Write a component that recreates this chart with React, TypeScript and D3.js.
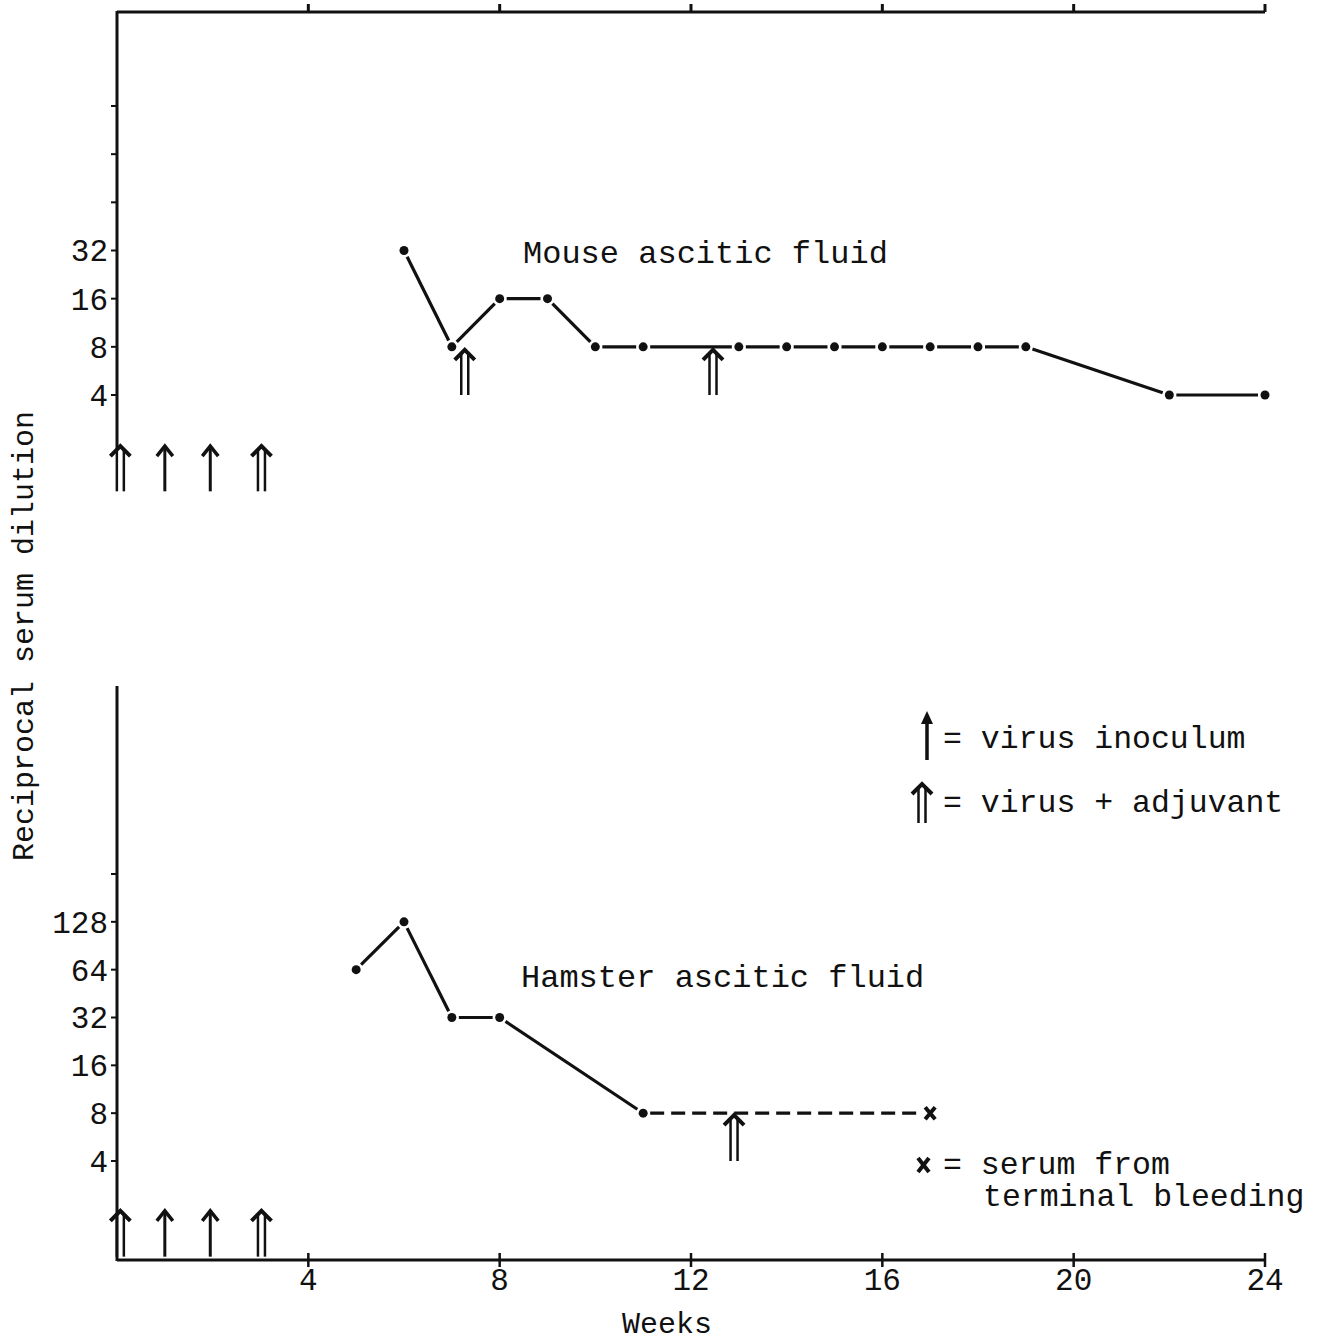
// Antibody titre chart: mouse and hamster ascitic fluid
import React from 'react';
import * as d3 from 'd3';

const mouseWeeks = [6, 7, 8, 9, 10, 11, 13, 14, 15, 16, 17, 18, 19, 22, 24];
const mouseTitres = [32, 8, 16, 16, 8, 8, 8, 8, 8, 8, 8, 8, 8, 4, 4];

const hamsterWeeks = [5, 6, 7, 8, 11, 17];
const hamsterTitres = [64, 128, 32, 32, 8, 8];
// index from which the hamster line is dashed
const hamsterDashFrom = 4;

const weekTicks = [4, 8, 12, 16, 20, 24];
const titreTicks = [4, 8, 16, 32, 64, 128, 256];
const mouseTickLabels = ['4', '8', '16', '32', '', '', ''];
const hamsterTickLabels = ['4', '8', '16', '32', '64', '128', ''];

// inoculations: week, kind, low (tail) and high (head) titre level
const mouseShots = [
  { week: 0.07, kind: 'double', from: 1, to: 2 },
  { week: 1, kind: 'single', from: 1, to: 2 },
  { week: 1.95, kind: 'single', from: 1, to: 2 },
  { week: 3.02, kind: 'double', from: 1, to: 2 },
  { week: 7.27, kind: 'double', from: 4, to: 8 },
  { week: 12.46, kind: 'double', from: 4, to: 8 },
];
const hamsterShots = [
  { week: 0.07, kind: 'double', from: 1, to: 2 },
  { week: 1, kind: 'single', from: 1, to: 2 },
  { week: 1.95, kind: 'single', from: 1, to: 2 },
  { week: 3.02, kind: 'double', from: 1, to: 2 },
  { week: 12.9, kind: 'double', from: 4, to: 8 },
];

const FONT = '"Liberation Mono", "Courier New", monospace';
const INK = '#111';

const x = d3.scaleLinear().domain([0, 24]).range([117, 1265]);
const yTop = d3.scaleLog().base(2).domain([4, 256]).range([395, 106]);
const yBot = d3.scaleLog().base(2).domain([4, 256]).range([1161, 874]);

function Arrow({ cx, y1, y2, kind }: { cx: number; y1: number; y2: number; kind: string }) {
  if (kind === 'single') {
    return (
      <g stroke={INK} fill="none" strokeWidth={3}>
        <line x1={cx} x2={cx} y1={y1} y2={y2 + 2} />
        <path d={`M${cx - 8},${y2 + 10} L${cx},${y2} L${cx + 8},${y2 + 10}`} strokeWidth={3.5} />
      </g>
    );
  }
  return (
    <g stroke={INK} fill="none" strokeWidth={2.5}>
      <line x1={cx - 3.5} x2={cx - 3.5} y1={y1} y2={y2 + 4} />
      <line x1={cx + 3.5} x2={cx + 3.5} y1={y1} y2={y2 + 4} />
      <path d={`M${cx - 10},${y2 + 10} L${cx},${y2} L${cx + 10},${y2 + 10}`} strokeWidth={4} />
    </g>
  );
}

function segments(pts: [number, number][], gap: number) {
  const out: { x1: number; y1: number; x2: number; y2: number; i: number }[] = [];
  for (let i = 0; i < pts.length - 1; i++) {
    const [ax, ay] = pts[i];
    const [bx, by] = pts[i + 1];
    const len = Math.hypot(bx - ax, by - ay);
    const ux = (bx - ax) / len;
    const uy = (by - ay) / len;
    out.push({ x1: ax + ux * gap, y1: ay + uy * gap, x2: bx - ux * gap, y2: by - uy * gap, i });
  }
  return out;
}

export default function App() {
  const mousePts = mouseWeeks.map((w, i) => [x(w), yTop(mouseTitres[i])] as [number, number]);
  const hamPts = hamsterWeeks.map((w, i) => [x(w), yBot(hamsterTitres[i])] as [number, number]);
  const hamLast = hamPts[hamPts.length - 1];

  return (
    <svg width={1325} height={1343} style={{ position: 'absolute', left: 0, top: 0, background: '#fff' }}
      fontFamily={FONT} fill={INK}>
      {/* top panel frame */}
      <line x1={x(0)} x2={x(24)} y1={12} y2={12} stroke={INK} strokeWidth={3} />
      {weekTicks.map(t => (
        <line key={'tt' + t} x1={x(t)} x2={x(t)} y1={12} y2={4} stroke={INK} strokeWidth={3} />
      ))}
      <line x1={x(0)} x2={x(0)} y1={11} y2={450} stroke={INK} strokeWidth={3} />
      {titreTicks.map((t, i) => (
        <g key={'mt' + t}>
          <line x1={x(0) - 6} x2={x(0)} y1={yTop(t)} y2={yTop(t)} stroke={INK} strokeWidth={2} />
          <text x={x(0) - 9} y={yTop(t)} dy="0.35em" textAnchor="end" fontSize={31}>{mouseTickLabels[i]}</text>
        </g>
      ))}

      {/* bottom panel frame */}
      <line x1={x(0)} x2={x(0)} y1={686} y2={1261} stroke={INK} strokeWidth={3} />
      <line x1={x(0)} x2={x(24)} y1={1260} y2={1260} stroke={INK} strokeWidth={3} />
      {weekTicks.map(t => (
        <g key={'bt' + t}>
          <line x1={x(t)} x2={x(t)} y1={1253} y2={1267} stroke={INK} strokeWidth={2.5} />
          <text x={x(t)} y={1290} textAnchor="middle" fontSize={31}>{t}</text>
        </g>
      ))}
      {titreTicks.map((t, i) => (
        <g key={'ht' + t}>
          <line x1={x(0) - 6} x2={x(0)} y1={yBot(t)} y2={yBot(t)} stroke={INK} strokeWidth={2} />
          <text x={x(0) - 9} y={yBot(t)} dy="0.35em" textAnchor="end" fontSize={31}>{hamsterTickLabels[i]}</text>
        </g>
      ))}

      {/* axis titles */}
      <text transform="translate(33,636) rotate(-90)" textAnchor="middle" fontSize={30}>Reciprocal serum dilution</text>
      <text x={667} y={1333} textAnchor="middle" fontSize={30}>Weeks</text>

      {/* mouse series */}
      {segments(mousePts, 7).map(s => (
        <line key={'ms' + s.i} x1={s.x1} y1={s.y1} x2={s.x2} y2={s.y2} stroke={INK} strokeWidth={3.2} />
      ))}
      {mousePts.map(([px, py], i) => <circle key={'mp' + i} cx={px} cy={py} r={4.5} />)}
      <text x={523} y={263} fontSize={32}>Mouse ascitic fluid</text>
      {mouseShots.map((s, i) => (
        <Arrow key={'ma' + i} cx={x(s.week)} y1={yTop(s.from)} y2={yTop(s.to) + 3} kind={s.kind} />
      ))}

      {/* hamster series */}
      {segments(hamPts, 7).map(s => (
        <line key={'hs' + s.i} x1={s.x1} y1={s.y1} x2={s.x2} y2={s.y2} stroke={INK} strokeWidth={3.2}
          strokeDasharray={s.i >= hamsterDashFrom ? '14 7' : undefined} />
      ))}
      {hamPts.slice(0, -1).map(([px, py], i) => <circle key={'hp' + i} cx={px} cy={py} r={4.5} />)}
      <path d={`M${hamLast[0] - 5},${hamLast[1] - 6} L${hamLast[0] + 5},${hamLast[1] + 6} M${hamLast[0] + 5},${hamLast[1] - 6} L${hamLast[0] - 5},${hamLast[1] + 6}`}
        stroke={INK} strokeWidth={4} />
      <text x={521} y={987} fontSize={32}>Hamster ascitic fluid</text>
      {hamsterShots.map((s, i) => (
        <Arrow key={'ha' + i} cx={x(s.week)} y1={yBot(s.from)} y2={yBot(s.to) + 2} kind={s.kind} />
      ))}

      {/* legend */}
      <line x1={927} x2={927} y1={760} y2={720} stroke={INK} strokeWidth={3.5} />
      <path d="M921,724 L927,711 L933,724 Z" />
      <text x={943} y={748} fontSize={31.5}>= virus inoculum</text>
      <Arrow cx={922} y1={823} y2={784} kind="double" />
      <text x={943} y={812} fontSize={31.5}>= virus + adjuvant</text>
      <path d="M918,1158 L929,1172 M929,1158 L918,1172" stroke={INK} strokeWidth={4} />
      <text x={943} y={1174} fontSize={31.5}>= serum from</text>
      <text x={983} y={1206} fontSize={31.5}>terminal bleeding</text>
    </svg>
  );
}
